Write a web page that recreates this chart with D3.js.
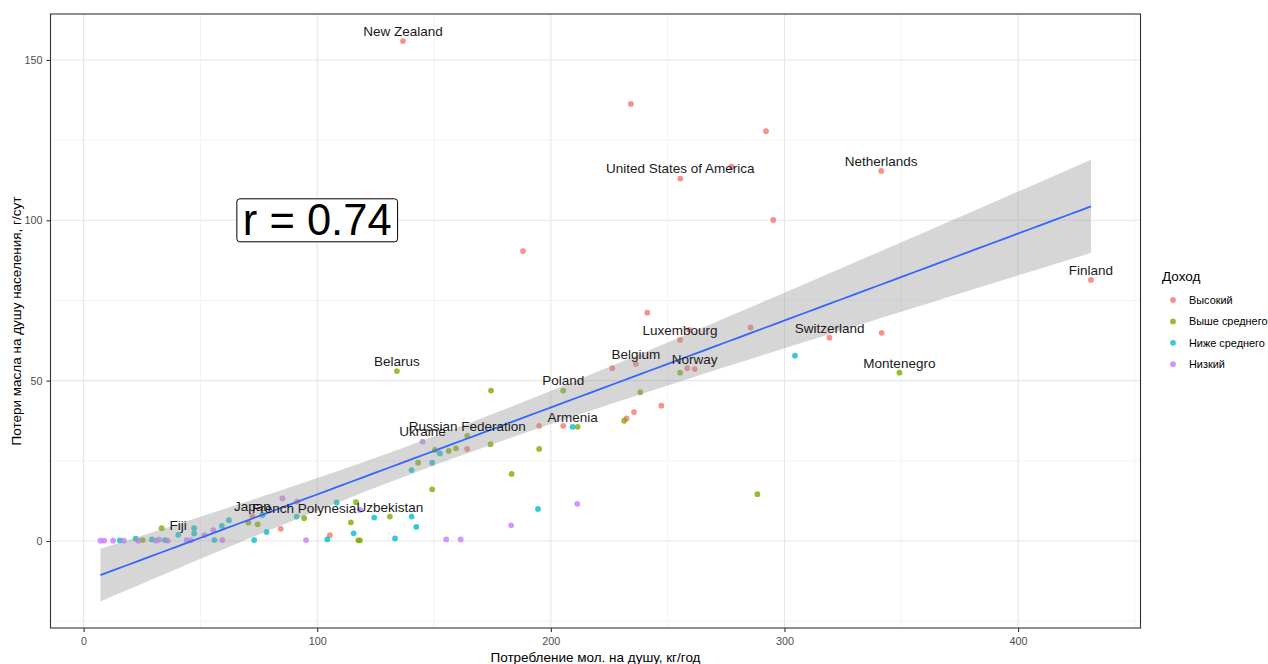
<!DOCTYPE html>
<html>
<head>
<meta charset="utf-8">
<script src="https://cdn.jsdelivr.net/npm/d3@7"></script>
<style>
  html, body { margin: 0; padding: 0; background: #fff; }
  svg { display: block; font-family: "Liberation Sans", Arial, sans-serif; }
</style>
</head>
<body>
<svg id="chart" width="1268" height="664"></svg>
<script>
// Income groups and their colours
const incomeGroups = ["Высокий", "Выше среднего", "Ниже среднего", "Низкий"];
const incomeColors = ["#F8766D", "#7CAE00", "#00BFC4", "#C77CFF"];

// Milk consumption per capita, kg/year (x) and oil losses per capita, g/day (y), by income group
const highX = [136.7, 234.3, 292.1, 277.3, 255.4, 341.4, 295.2, 188.1, 431.2, 241.3, 285.5, 259.2, 255.3, 319.3, 341.6, 236.4, 226.3, 258.4, 261.6, 235.6, 247.3, 232.4, 195.0, 205.3, 164.2, 72.2, 84.4, 105.4, 91.4];
const highY = [155.9, 136.3, 127.8, 116.7, 113.0, 115.4, 100.1, 90.4, 81.4, 71.2, 66.6, 65.8, 62.7, 63.4, 64.9, 55.2, 53.9, 53.9, 53.6, 40.2, 42.2, 38.2, 35.9, 35.9, 28.7, 7.8, 3.8, 1.8, 12.3];
const highNames = ["New Zealand", "", "", "", "United States of America", "Netherlands", "", "", "Finland", "", "", "", "Luxembourg", "Switzerland", "", "Belgium", "", "", "Norway", "", "", "", "", "", "", "Japan", "", "", ""];

const upperMidX = [134.1, 349.2, 255.3, 238.3, 174.4, 205.3, 211.5, 231.4, 164.2, 174.2, 159.4, 156.3, 150.4, 195.0, 143.2, 183.2, 149.2, 288.4, 116.6, 131.1, 94.4, 114.4, 117.6, 118.3, 70.5, 74.5, 33.4, 25.3];
const upperMidY = [53.0, 52.5, 52.5, 46.4, 46.9, 46.9, 35.6, 37.5, 32.8, 30.2, 28.9, 28.1, 28.4, 28.7, 24.4, 20.9, 16.1, 14.6, 12.1, 7.6, 7.1, 5.8, 0.2, 0.2, 5.7, 5.2, 4.0, 0.3];
const upperMidNames = ["Belarus", "Montenegro", "", "", "", "Poland", "", "", "Russian Federation", "", "", "", "", "", "", "", "", "", "", "Uzbekistan", "French Polynesia", "", "", "", "", "", "", ""];

const lowerMidX = [304.5, 209.3, 152.5, 149.2, 140.4, 194.5, 108.3, 124.4, 140.4, 142.4, 115.6, 104.3, 133.3, 91.2, 76.6, 78.3, 73.0, 62.2, 59.2, 56.0, 47.3, 47.3, 40.5, 34.8, 29.2, 22.3, 15.5];
const lowerMidY = [57.8, 35.6, 27.3, 24.4, 22.1, 10.0, 12.0, 7.3, 7.6, 4.4, 2.4, 0.5, 0.8, 7.6, 8.1, 2.8, 0.3, 6.5, 4.7, 0.3, 4.0, 2.3, 1.9, 0.3, 0.5, 0.7, 0.2];
const lowerMidNames = ["", "Armenia", "", "", "", "", "", "", "", "", "", "", "", "", "", "", "", "", "", "", "", "", "Fiji", "", "", "", ""];

const lowX = [145.1, 211.3, 183.0, 85.1, 118.3, 95.2, 155.2, 161.4, 59.4, 55.5, 51.7, 44.1, 45.9, 32.3, 31.0, 36.0, 23.4, 17.2, 12.6, 8.8, 7.2];
const lowY = [31.0, 11.6, 4.9, 13.3, 9.7, 0.3, 0.5, 0.5, 0.3, 3.4, 1.8, 0.3, 0.2, 0.4, 0.1, 0.1, 0.1, 0.1, 0.1, 0.1, 0.1];
const lowNames = ["Ukraine", "", "", "", "", "", "", "", "", "", "", "", "", "", "", "", "", "", "", "", ""];

// Axis ticks and titles
const xTicks = [0, 100, 200, 300, 400];
const yTicks = [0, 50, 100, 150];
const xMinor = [50, 150, 250, 350, 450];
const yMinor = [-25, 25, 75, 125];
const xTitle = "Потребление мол. на душу, кг/год";
const yTitle = "Потери масла на душу населения, г/сут";
const legendTitle = "Доход";
const corrLabel = "r = 0.74";
const corrPos = [100, 100];

// Combine the groups into one row list
const groupArrays = [
  [highX, highY, highNames],
  [upperMidX, upperMidY, upperMidNames],
  [lowerMidX, lowerMidY, lowerMidNames],
  [lowX, lowY, lowNames]
];
const rows = [];
groupArrays.forEach(([xs, ys, names], gi) => {
  xs.forEach((x, i) => rows.push({ x, y: ys[i], name: names[i], group: incomeGroups[gi] }));
});

// Panel geometry
const panel = { left: 50.5, right: 1140.5, top: 14, bottom: 628 };
const x = d3.scaleLinear().domain([-14.17, 452.4]).range([panel.left, panel.right]);
const y = d3.scaleLinear().domain([-27.13, 164.33]).range([panel.bottom, panel.top]);
const color = d3.scaleOrdinal().domain(incomeGroups).range(incomeColors);

const svg = d3.select("#chart");
svg.append("rect").attr("width", 1268).attr("height", 664).attr("fill", "#fff");

svg.append("clipPath").attr("id", "panelClip").append("rect")
  .attr("x", panel.left).attr("y", panel.top)
  .attr("width", panel.right - panel.left).attr("height", panel.bottom - panel.top);

const grid = svg.append("g");
grid.selectAll(".xminor").data(xMinor).join("line")
  .attr("x1", d => x(d)).attr("x2", d => x(d))
  .attr("y1", panel.top).attr("y2", panel.bottom)
  .attr("stroke", "#ebebeb").attr("stroke-width", 0.6);
grid.selectAll(".yminor").data(yMinor).join("line")
  .attr("y1", d => y(d)).attr("y2", d => y(d))
  .attr("x1", panel.left).attr("x2", panel.right)
  .attr("stroke", "#ebebeb").attr("stroke-width", 0.6);
grid.selectAll(".xmajor").data(xTicks).join("line")
  .attr("x1", d => x(d)).attr("x2", d => x(d))
  .attr("y1", panel.top).attr("y2", panel.bottom)
  .attr("stroke", "#e6e6e6").attr("stroke-width", 1.1);
grid.selectAll(".ymajor").data(yTicks).join("line")
  .attr("y1", d => y(d)).attr("y2", d => y(d))
  .attr("x1", panel.left).attr("x2", panel.right)
  .attr("stroke", "#e6e6e6").attr("stroke-width", 1.1);

const plot = svg.append("g").attr("clip-path", "url(#panelClip)");

// Points
plot.selectAll("circle").data(rows).join("circle")
  .attr("cx", d => x(d.x)).attr("cy", d => y(d.y)).attr("r", 2.9)
  .attr("fill", d => color(d.group)).attr("fill-opacity", 0.8);

// Linear fit with 95% confidence band
const n = rows.length;
const mx = d3.mean(rows, d => d.x), my = d3.mean(rows, d => d.y);
const sxx = d3.sum(rows, d => (d.x - mx) ** 2);
const sxy = d3.sum(rows, d => (d.x - mx) * (d.y - my));
const slope = sxy / sxx, intercept = my - slope * mx;
const rss = d3.sum(rows, d => (d.y - intercept - slope * d.x) ** 2);
const sigma = Math.sqrt(rss / (n - 2));
const tq = 1.983;
const [xMin, xMax] = d3.extent(rows, d => d.x);
const fit = d3.range(80).map(i => {
  const xv = xMin + (xMax - xMin) * i / 79;
  const fv = intercept + slope * xv;
  const se = sigma * Math.sqrt(1 / n + (xv - mx) ** 2 / sxx);
  return { x: xv, y: fv, lo: fv - tq * se, hi: fv + tq * se };
});
plot.append("path").datum(fit)
  .attr("d", d3.area().x(d => x(d.x)).y0(d => y(d.lo)).y1(d => y(d.hi)))
  .attr("fill", "#999999").attr("fill-opacity", 0.4);
plot.append("path").datum(fit)
  .attr("d", d3.line().x(d => x(d.x)).y(d => y(d.y)))
  .attr("fill", "none").attr("stroke", "#3366FF").attr("stroke-width", 1.8);

// Country labels
plot.selectAll("text.country").data(rows.filter(d => d.name)).join("text")
  .attr("class", "country")
  .attr("x", d => x(d.x)).attr("y", d => y(d.y + 3))
  .attr("text-anchor", "middle").attr("dominant-baseline", "central")
  .attr("font-size", 13.5).attr("fill", "#1a1a1a")
  .text(d => d.name);

// Correlation label
const corr = svg.append("g");
const corrText = corr.append("text")
  .attr("x", x(corrPos[0])).attr("y", y(corrPos[1]))
  .attr("text-anchor", "middle").attr("dominant-baseline", "central")
  .attr("font-size", 43.5).attr("fill", "#000").text(corrLabel);
const tw = corrText.node().getComputedTextLength();
corr.insert("rect", "text")
  .attr("x", x(corrPos[0]) - tw / 2 - 6).attr("y", y(corrPos[1]) - 21.5)
  .attr("width", tw + 12).attr("height", 43).attr("rx", 3)
  .attr("fill", "#fff").attr("stroke", "#000").attr("stroke-width", 1);

// Panel border
svg.append("rect")
  .attr("x", panel.left).attr("y", panel.top)
  .attr("width", panel.right - panel.left).attr("height", panel.bottom - panel.top)
  .attr("fill", "none").attr("stroke", "#333").attr("stroke-width", 1.1);

// Axes
const xAxis = svg.append("g").attr("transform", `translate(0,${panel.bottom})`)
  .call(d3.axisBottom(x).tickValues(xTicks).tickSize(4).tickPadding(5));
const yAxis = svg.append("g").attr("transform", `translate(${panel.left},0)`)
  .call(d3.axisLeft(y).tickValues(yTicks).tickSize(4).tickPadding(4));
[xAxis, yAxis].forEach(a => {
  a.select(".domain").remove();
  a.selectAll(".tick line").attr("stroke", "#333").attr("stroke-width", 1.1);
  a.selectAll(".tick text").attr("fill", "#4d4d4d").attr("font-size", 10.8)
    .attr("font-family", "Liberation Sans, Arial, sans-serif");
});

svg.append("text")
  .attr("x", (panel.left + panel.right) / 2).attr("y", 657)
  .attr("text-anchor", "middle").attr("dominant-baseline", "central")
  .attr("font-size", 13.5).attr("fill", "#000").text(xTitle);
svg.append("text")
  .attr("transform", `translate(16,${(panel.top + panel.bottom) / 2}) rotate(-90)`)
  .attr("text-anchor", "middle").attr("dominant-baseline", "central")
  .attr("font-size", 13.5).attr("fill", "#000").text(yTitle);

// Legend
const legend = svg.append("g");
legend.append("text").attr("x", 1162).attr("y", 276)
  .attr("dominant-baseline", "central").attr("font-size", 13.5).attr("fill", "#000")
  .text(legendTitle);
const items = legend.selectAll("g.item").data(incomeGroups).join("g")
  .attr("class", "item")
  .attr("transform", (d, i) => `translate(0,${300 + i * 21.4})`);
items.append("circle").attr("cx", 1173).attr("cy", 0).attr("r", 2.9)
  .attr("fill", d => color(d)).attr("fill-opacity", 0.8);
items.append("text").attr("x", 1189).attr("y", 0)
  .attr("dominant-baseline", "central").attr("font-size", 10.9).attr("fill", "#000")
  .text(d => d);
</script>
</body>
</html>
